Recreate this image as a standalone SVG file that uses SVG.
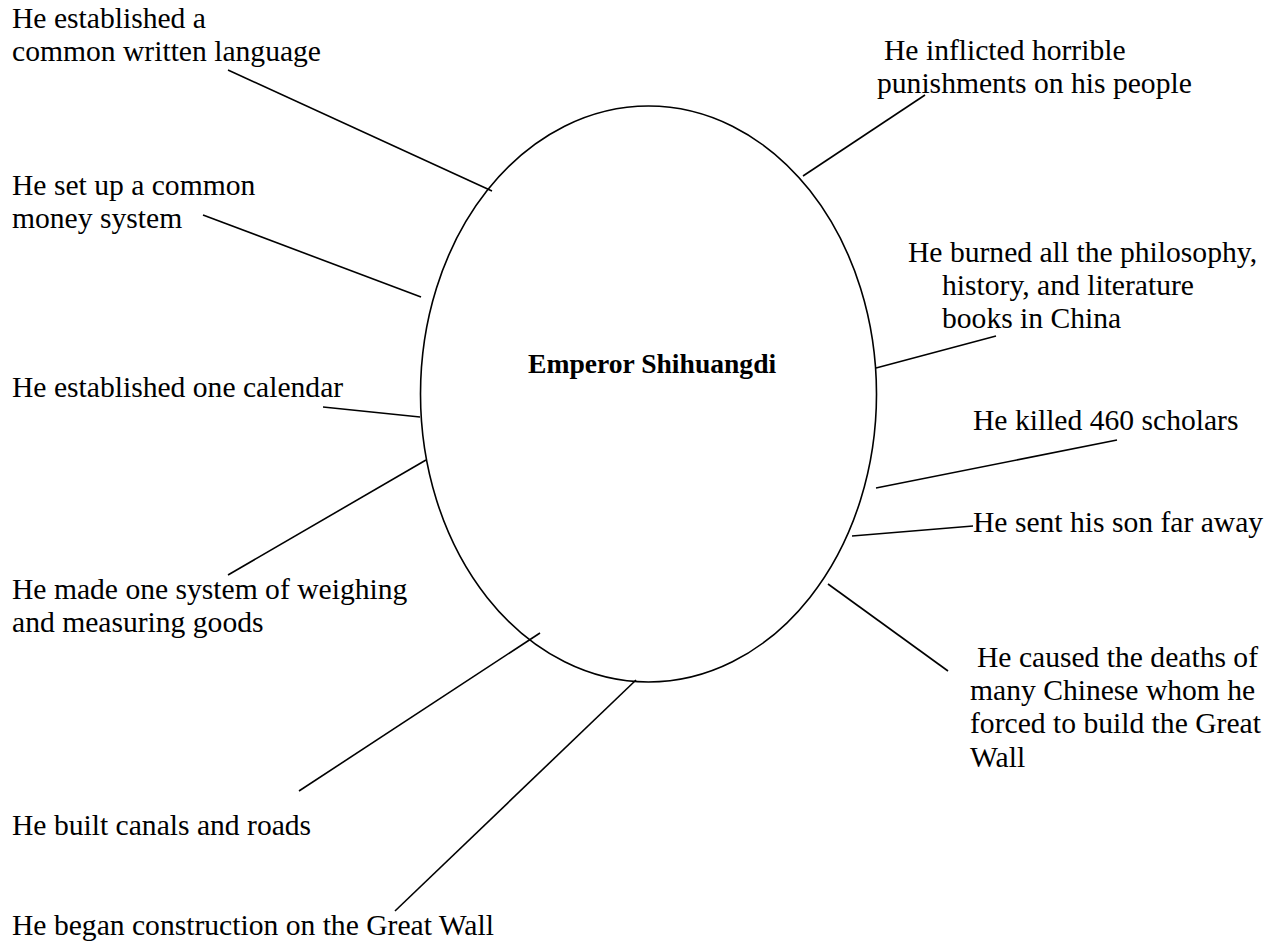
<svg xmlns="http://www.w3.org/2000/svg" width="1271" height="944" viewBox="0 0 1271 944">
<style>
text{font-family:"Liberation Serif","Times New Roman",serif;font-size:29.6px;fill:#000}
.c{font-size:27.6px;font-weight:bold}
line,ellipse{stroke:#000;stroke-width:1.6;fill:none}
</style>
<rect width="1271" height="944" fill="#fff"/>
<g id="center">
<ellipse cx="648.5" cy="394" rx="228" ry="288"/>
<text class="c" x="528" y="373">Emperor Shihuangdi</text>
</g>
<g id="n1"><text x="12" y="28">He established a</text><text x="12" y="61">common written language</text></g>
<g id="n2"><text x="12" y="195">He set up a common</text><text x="12" y="228">money system</text></g>
<g id="n3"><text x="12" y="397">He established one calendar</text></g>
<g id="n4"><text x="12" y="599">He made one system of weighing</text><text x="12" y="632">and measuring goods</text></g>
<g id="n5"><text x="12" y="835">He built canals and roads</text></g>
<g id="n6"><text x="12" y="935">He began construction on the Great Wall</text></g>
<g id="n7"><text x="884" y="60">He inflicted horrible</text><text x="877" y="93">punishments on his people</text></g>
<g id="n8"><text x="908" y="262">He burned all the philosophy,</text><text x="942" y="295">history, and literature</text><text x="942" y="328">books in China</text></g>
<g id="n9"><text x="973" y="430">He killed 460 scholars</text></g>
<g id="n10"><text x="973" y="532">He sent his son far away</text></g>
<g id="n11"><text x="977" y="667">He caused the deaths of</text><text x="970" y="700">many Chinese whom he</text><text x="970" y="733">forced to build the Great</text><text x="970" y="767">Wall</text></g>
<g id="connectors">
<line x1="228" y1="70" x2="492" y2="191"/>
<line x1="203" y1="215" x2="421" y2="297"/>
<line x1="323" y1="407" x2="420" y2="417"/>
<line x1="228" y1="575" x2="426" y2="460"/>
<line x1="299" y1="791" x2="540" y2="633"/>
<line x1="395" y1="911" x2="636" y2="680"/>
<line x1="803" y1="176" x2="925" y2="95"/>
<line x1="876" y1="368" x2="996" y2="336"/>
<line x1="876" y1="488" x2="1117" y2="440"/>
<line x1="852" y1="536" x2="973" y2="526"/>
<line x1="828" y1="584" x2="948" y2="671"/>
</g>
</svg>
